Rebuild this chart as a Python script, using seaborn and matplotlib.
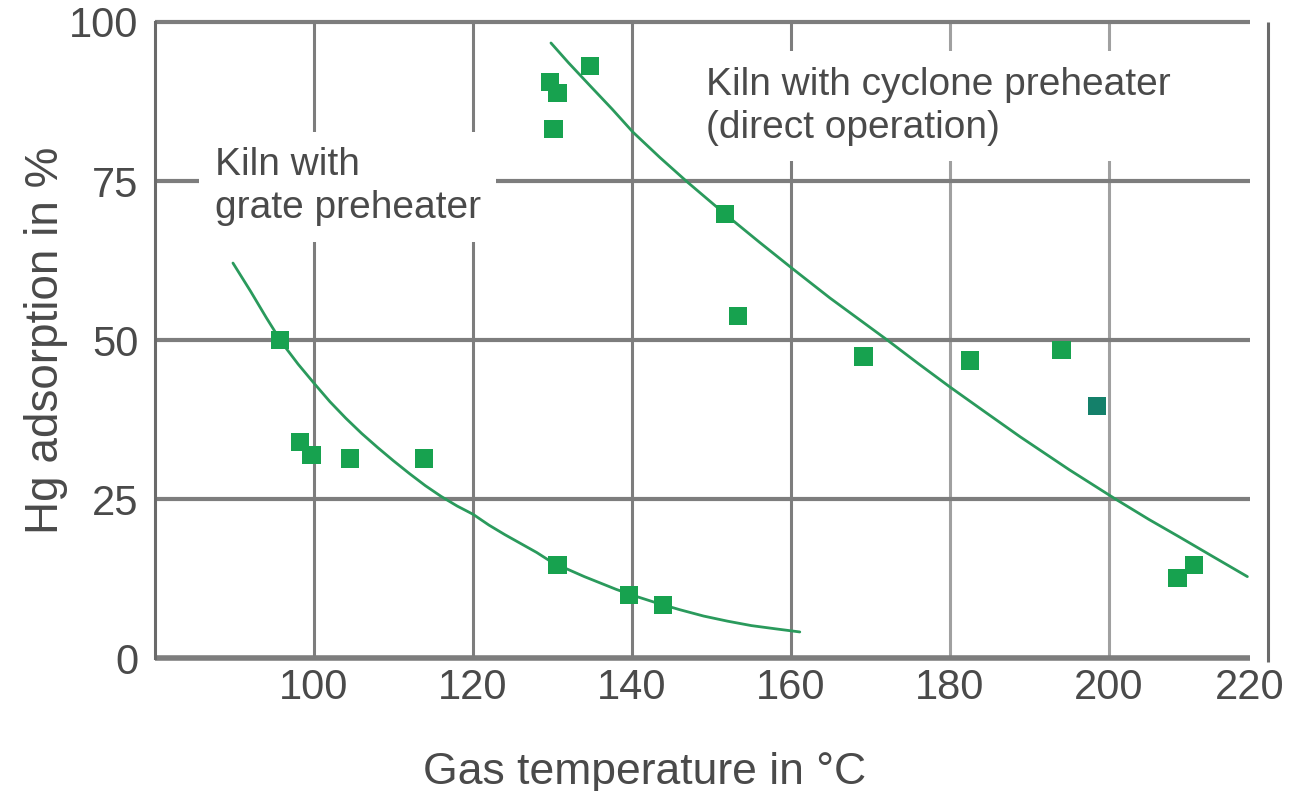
import numpy as np
import pandas as pd
import matplotlib
matplotlib.use("Agg")
import matplotlib.pyplot as plt
import seaborn as sns

# measured points, kiln with grate preheater
grate_temp = [95.7, 98.2, 99.7, 104.5, 113.8, 130.6, 139.6, 143.9]
grate_hg = [50.0, 34.0, 31.9, 31.4, 31.4, 14.6, 9.9, 8.3]

# measured points, kiln with cyclone preheater (direct operation)
cyclone_temp = [129.7, 130.6, 130.1, 134.7, 151.7, 153.3, 169.1, 182.5, 194.0, 208.6, 210.7]
cyclone_hg = [90.6, 88.8, 83.2, 93.1, 69.8, 53.8, 47.4, 46.8, 48.4, 12.6, 14.6]
# one point printed in a darker shade
cyclone_dark_temp = [198.5]
cyclone_dark_hg = [39.6]

# trend curves
grate_curve_x = [89.8, 92, 94, 96, 98, 100, 102, 104, 106, 108, 110, 112, 114, 116, 118, 120,
                 122, 124, 126, 128, 130, 132, 134, 136, 138, 140, 143, 146, 149, 152, 155, 158, 161.1]
grate_curve_y = [62.1, 57.7, 53.5, 49.5, 46.2, 43.2, 40.3, 37.7, 35.3, 33.1, 31.0, 29.0, 27.1, 25.4, 23.9, 22.6,
                 20.9, 19.4, 18.0, 16.6, 15.0, 13.9, 12.8, 11.8, 10.8, 9.9, 8.7, 7.6, 6.6, 5.8, 5.1, 4.6, 4.1]
cyclone_curve_x = [129.8, 132.0, 134.7, 137.5, 140.1, 143.5, 146.9, 151.7, 156.0, 160.1, 164.9, 168.5,
                   172.1, 176.0, 180.0, 184.5, 188.8, 195.0, 200.8, 205.0, 208.9, 213.0, 217.4]
cyclone_curve_y = [96.7, 93.6, 90.0, 86.3, 82.7, 78.7, 74.9, 69.8, 65.4, 61.3, 56.6, 53.3,
                   50.0, 46.3, 42.6, 38.6, 34.8, 29.6, 25.0, 21.8, 19.0, 16.0, 12.8]

x_ticks = [100, 120, 140, 160, 180, 200]
y_ticks = [0, 25, 50, 75, 100]

sns.set_theme(style="white")
plt.rcParams["font.family"] = ["Liberation Sans", "DejaVu Sans"]
txt = "#4a4a4a"
grid_c = "#7d7d7d"
green = "#17a24f"
line_green = "#2a9a5c"

fig = plt.figure(figsize=(13.15, 7.91), dpi=100)
ax = fig.add_axes([0.1179, 0.1681, 0.8464, 0.8041])

x_end = 217.7
# grid drawn by hand so the lines stop short of the right edge like the original
ax.vlines(x_ticks[:4], 0, 100, color=grid_c, lw=2.2, zorder=1)
ax.vlines(x_ticks[4:], 0, 100, color="#a0a0a0", lw=2.2, zorder=1)
ax.hlines([25, 50, 75], 80, x_end, color=grid_c, lw=3, zorder=1)
ax.hlines(100, 80, x_end, color=grid_c, lw=3, zorder=1, clip_on=False)
ax.hlines(0, 80, x_end, color=grid_c, lw=4, zorder=2, clip_on=False)
ax.vlines(220, -0.6, 100, color="#6a6a6a", lw=2.2, zorder=1, clip_on=False)

grate_line = pd.DataFrame({"x": grate_curve_x, "y": grate_curve_y})
cyc_line = pd.DataFrame({"x": cyclone_curve_x, "y": cyclone_curve_y})
sns.lineplot(data=grate_line, x="x", y="y", sort=False, estimator=None, color=line_green, lw=2, ax=ax, zorder=4)
sns.lineplot(data=cyc_line, x="x", y="y", sort=False, estimator=None, color=line_green, lw=2, ax=ax, zorder=4)

sns.scatterplot(x=grate_temp, y=grate_hg, marker="s", s=175, color=green, edgecolor="none", ax=ax, zorder=5)
sns.scatterplot(x=cyclone_temp, y=cyclone_hg, marker="s", s=175, color=green, edgecolor="none", ax=ax, zorder=5)
sns.scatterplot(x=cyclone_dark_temp, y=cyclone_dark_hg, marker="s", s=175, color="#14806a", edgecolor="none", ax=ax, zorder=5)

box = dict(boxstyle="square,pad=0.4", facecolor="white", edgecolor="none")
ax.text(87.5, 80.3, "Kiln with\ngrate preheater", fontsize=28, color=txt, ha="left", va="top",
        linespacing=1.25, zorder=3, bbox=box)
ax.text(149.3, 93.0, "Kiln with cyclone preheater\n(direct operation)", fontsize=28, color=txt,
        ha="left", va="top", linespacing=1.25, zorder=3, bbox=box)

ax.set_xlim(80, 220)
ax.set_ylim(0, 100)
ax.set_xticks(x_ticks + [x_end])
ax.set_xticklabels([str(v) for v in x_ticks] + ["220"])
ax.set_yticks(y_ticks)
ax.set_yticklabels([str(v) for v in y_ticks])
ax.tick_params(axis="both", length=0, labelsize=30, labelcolor=txt)
ax.tick_params(axis="y", pad=12)
ax.tick_params(axis="x", pad=7)

for side in ["top", "right", "bottom"]:
    ax.spines[side].set_visible(False)
ax.spines["left"].set_color("#6a6a6a")
ax.spines["left"].set_linewidth(2.2)

ax.set_xlabel("Gas temperature in \u00b0C", fontsize=32, color=txt)
ax.set_ylabel("Hg adsorption in %", fontsize=33, color=txt)
ax.xaxis.set_label_coords(0.44, -0.147)
ax.yaxis.set_label_coords(-0.078, 0.5)

fig.savefig("out.png", dpi=100)
